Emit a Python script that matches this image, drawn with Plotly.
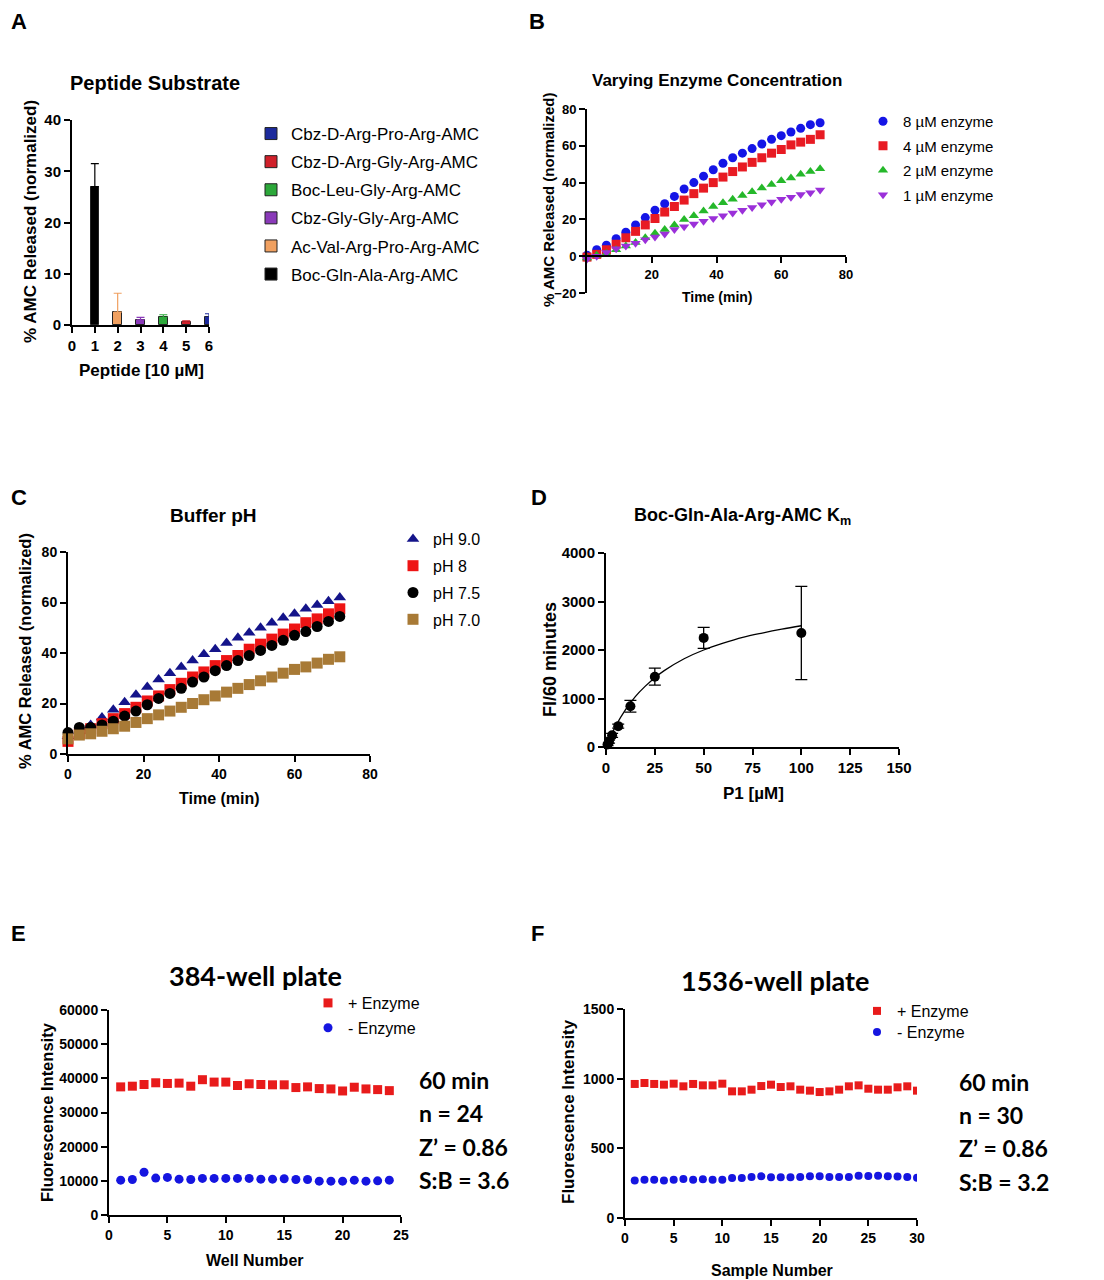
import plotly.graph_objects as go

W, H = 1104, 1280
OFF = 8  # page body margin that the browser adds around the figure

# ---- panel A data ----
peptide_names = ['Cbz-D-Arg-Pro-Arg-AMC', 'Cbz-D-Arg-Gly-Arg-AMC', 'Boc-Leu-Gly-Arg-AMC',
                 'Cbz-Gly-Gly-Arg-AMC', 'Ac-Val-Arg-Pro-Arg-AMC', 'Boc-Gln-Ala-Arg-AMC']
peptide_pos = [6, 5, 4, 3, 2, 1]
peptide_mean = [1.5, 0.5, 1.5, 1.0, 2.5, 27.0]
peptide_err = [0.7, 0.3, 0.5, 0.5, 3.7, 4.5]
peptide_colors = ['#1c2a9c', '#d0202a', '#2ca83a', '#8a3ab9', '#f0a060', '#000000']

# ---- panel B data ----
time_min = [0, 3, 6, 9, 12, 15, 18, 21, 24, 27, 30, 33, 36, 39, 42, 45, 48, 51, 54, 57, 60, 63, 66, 69, 72]
enz_8 = [0.5, 3.5, 6, 9.5, 13, 17, 21, 25, 28.5, 32.5, 36.5, 40, 43.5, 47, 50.5, 53.5, 56, 58.5,
         61, 63.5, 65.5, 67.5, 69.5, 71.5, 72.5]
enz_4 = [-0.5, 1, 3.5, 6.5, 10, 13.5, 17, 20.5, 24, 27, 30.5, 34, 37, 40, 43, 46, 48.5, 51,
         53.5, 56, 58, 60.5, 62, 63.5, 66]
enz_2 = [-1, 0.5, 1.5, 3.5, 5.5, 7.5, 10, 12.5, 14.5, 17, 20, 22, 24.5, 27, 29, 31, 33, 35,
         37, 39, 41, 42.5, 44.5, 46, 47.5]
enz_1 = [-1.5, 0, 2, 4, 5.5, 7, 9, 10.5, 12, 14.5, 16, 17.5, 19, 20.5, 22, 23.5, 25, 26.5,
         28, 29.5, 31, 32, 33.5, 34.5, 36]

# ---- panel C data ----
ph_90 = [7, 9, 11.5, 14.5, 17.5, 20.5, 23.5, 26.5, 29.5, 32, 34.5, 37, 39.5, 41.5, 44, 46, 48, 50,
         52, 54, 55.5, 57.5, 59, 60.5, 62]
ph_80 = [5, 8, 10, 12, 14, 16, 18.5, 21, 23, 25.5, 28, 30.5, 32.5, 35, 37, 39, 41.5, 43.5,
         45.5, 47.5, 49.5, 52, 53.5, 55.5, 57.5]
ph_75 = [8.5, 10.5, 10.5, 11.5, 13, 15, 17, 19.5, 22, 24, 26, 28.5, 30.5, 33, 35, 37, 39, 41,
         43, 45, 47, 48.5, 50.5, 52.5, 54.5]
ph_70 = [6, 7.5, 8, 9, 10, 11, 12.5, 14, 15.5, 17, 18.5, 20, 21.5, 23, 24.5, 26, 27.5, 29,
         30.5, 32, 33.5, 34.5, 36, 37.5, 38.5]

# ---- panel D data ----
p1_conc = [0.78, 1.56, 3.125, 6.25, 12.5, 25, 50, 100]
fi_mean = [50, 110, 240, 430, 840, 1450, 2250, 2350]
fi_err = [20, 30, 40, 40, 120, 175, 215, 960]
fit_x = [0, 2, 5, 10, 15, 20, 25, 30, 40, 50, 60, 70, 80, 90, 100]
fit_y = [0, 190, 435, 770, 1040, 1250, 1430, 1580, 1820, 2000, 2140, 2260, 2350, 2430, 2500]

# ---- panel E data ----
wells = list(range(1, 25))
plate384_pos = [37500, 37700, 38200, 38700, 38500, 38600, 37700, 39600, 38900, 38900, 37900, 38400,
                38200, 38100, 38100, 37300, 37500, 37000, 36900, 36300, 37400, 36900, 36700, 36400]
plate384_neg = [10200, 10400, 12500, 10800, 11000, 10500, 10400, 10700, 10700, 10700, 10700, 10700,
                10500, 10500, 10600, 10400, 10400, 9900, 9900, 9900, 10200, 9900, 10000, 10200]

# ---- panel F data ----
samples = list(range(1, 31))
plate1536_pos = [962, 969, 962, 957, 964, 945, 962, 952, 952, 964, 909, 909, 921, 947, 957,
                 940, 945, 921, 914, 904, 909, 921, 945, 952, 928, 921, 921, 938, 945, 914]
plate1536_neg = [270, 275, 275, 270, 275, 280, 275, 278, 275, 275, 287, 287, 294, 299, 292,
                 292, 292, 294, 299, 299, 294, 294, 294, 304, 301, 304, 299, 297, 294, 289]

FONT = 'Liberation Sans, Arial, sans-serif'
CAL = 'Lato, Open Sans, sans-serif'


def fx(x):
    return (x - OFF) / W


def fy(y):
    return 1 - (y - OFF) / H


def px_x(a, b):
    return [fx(a), fx(b)]


def px_y(top, bottom):
    return [fy(bottom), fy(top)]


def axis(domain, rng, anchor, tsize=13, dtick=None, tickvals=None, **kw):
    d = dict(
        domain=domain, range=rng, anchor=anchor, automargin=False,
        showline=True, linecolor='black', linewidth=2,
        ticks='outside', ticklen=6, tickwidth=2, tickcolor='black',
        showgrid=False, zeroline=False,
        tickfont=dict(family=FONT, size=tsize, color='black', weight='bold'),
    )
    if dtick is not None:
        d['dtick'] = dtick
        d['tick0'] = 0
    if tickvals is not None:
        d['tickmode'] = 'array'
        d['tickvals'] = tickvals
    d.update(kw)
    return d


fig = go.Figure()

# Panel A bars
for name, pos, m, e, c in zip(peptide_names, peptide_pos, peptide_mean, peptide_err, peptide_colors):
    fig.add_trace(go.Bar(
        x=[pos], y=[m], name=name, xaxis='x', yaxis='y', legend='legend',
        width=0.38, marker=dict(color=c, line=dict(color='#222222', width=1)),
        error_y=dict(type='data', array=[e], symmetric=False, arrayminus=[0],
                     color=c, thickness=1.2, width=4),
        legendgroup=name,
    ))

# Panel B scatter
for name, ys, sym, c in [('8 µM enzyme', enz_8, 'circle', '#1515e6'),
                         ('4 µM enzyme', enz_4, 'square', '#e81b23'),
                         ('2 µM enzyme', enz_2, 'triangle-up', '#25b82a'),
                         ('1 µM enzyme', enz_1, 'triangle-down', '#9b30d9')]:
    fig.add_trace(go.Scatter(
        x=time_min, y=ys, mode='markers', name=name, xaxis='x2', yaxis='y2', legend='legend2',
        marker=dict(symbol=sym, color=c, size=9), cliponaxis=False, legendgroup=name,
    ))

# Panel C scatter
for name, ys, sym, c in [('pH 9.0', ph_90, 'triangle-up', '#14148a'),
                         ('pH 8', ph_80, 'square', '#ee1414'),
                         ('pH 7.5', ph_75, 'circle', '#000000'),
                         ('pH 7.0', ph_70, 'square', '#a87a36')]:
    fig.add_trace(go.Scatter(
        x=time_min, y=ys, mode='markers', name=name, xaxis='x3', yaxis='y3', legend='legend3',
        marker=dict(symbol=sym, color=c, size=11), cliponaxis=False, legendgroup=name,
    ))

# Panel D
fig.add_trace(go.Scatter(
    x=fit_x, y=fit_y, mode='lines', line=dict(color='black', width=1.3, shape='spline'),
    xaxis='x4', yaxis='y4', showlegend=False,
))
fig.add_trace(go.Scatter(
    x=p1_conc, y=fi_mean, mode='markers', xaxis='x4', yaxis='y4', showlegend=False,
    marker=dict(color='black', size=10),
    error_y=dict(type='data', array=fi_err, color='black', thickness=1.3, width=6),
    cliponaxis=False,
))

# Panel E
fig.add_trace(go.Scatter(
    x=wells, y=plate384_pos, mode='markers', name='+ Enzyme', xaxis='x5', yaxis='y5', legend='legend4',
    marker=dict(symbol='square', color='#e81b1b', size=9), cliponaxis=False, legendgroup='p',
))
fig.add_trace(go.Scatter(
    x=wells, y=plate384_neg, mode='markers', name='- Enzyme', xaxis='x5', yaxis='y5', legend='legend4',
    marker=dict(symbol='circle', color='#1515e0', size=9), cliponaxis=False, legendgroup='n',
))

# Panel F (one legend box per entry to get the tight spacing)
fig.add_trace(go.Scatter(
    x=samples, y=plate1536_pos, mode='markers', name='+ Enzyme', xaxis='x6', yaxis='y6', legend='legend5',
    marker=dict(symbol='square', color='#e81b1b', size=8), cliponaxis=True,
))
fig.add_trace(go.Scatter(
    x=samples, y=plate1536_neg, mode='markers', name='- Enzyme', xaxis='x6', yaxis='y6', legend='legend6',
    marker=dict(symbol='circle', color='#1515e0', size=8), cliponaxis=True,
))

# B: x axis crosses at y = 0
b_dom = px_y(109, 293)
b_zero = b_dom[0] + (0 - (-20)) / 100 * (b_dom[1] - b_dom[0])


def leg(x, y, gap, size):
    return dict(x=fx(x), y=fy(y), xanchor='left', yanchor='top', bgcolor='rgba(0,0,0,0)',
                font=dict(family=FONT, size=size, color='black'), tracegroupgap=gap,
                traceorder='grouped', itemwidth=30)


fig.update_layout(
    width=W, height=H, margin=dict(l=0, r=0, t=0, b=0, autoexpand=False),
    paper_bgcolor='white', plot_bgcolor='white', showlegend=True,
    bargap=0,
    xaxis=axis(px_x(72, 209), [0, 6], 'y', 15, dtick=1),
    yaxis=axis(px_y(120, 325), [0, 40], 'x', 15, dtick=10),
    xaxis2=axis(px_x(587, 846), [0, 80], 'free', 13, tickvals=[20, 40, 60, 80], position=b_zero),
    yaxis2=axis(b_dom, [-20, 80], 'x2', 13, dtick=20),
    xaxis3=axis(px_x(68, 370), [0, 80], 'y3', 14, dtick=20),
    yaxis3=axis(px_y(552, 754), [0, 80], 'x3', 14, dtick=20),
    xaxis4=axis(px_x(606, 899), [0, 150], 'y4', 15, dtick=25),
    yaxis4=axis(px_y(553, 747), [0, 4000], 'x4', 15, dtick=1000),
    xaxis5=axis(px_x(109, 401), [0, 25], 'y5', 14, dtick=5),
    yaxis5=axis(px_y(1010, 1215), [0, 60000], 'x5', 14, dtick=10000, tickformat='d'),
    xaxis6=axis(px_x(625, 917), [0, 30], 'y6', 14, dtick=5),
    yaxis6=axis(px_y(1009, 1218), [0, 1500], 'x6', 14, dtick=500, tickformat='d'),
    legend=leg(251, 116, 3, 17),
    legend2=leg(863, 105, 2, 15),
    legend3=leg(393, 522, 3, 16),
    legend4=leg(308, 986, 1, 16),
    legend5=leg(857, 994, 0, 16),
    legend6=leg(857, 1015, 0, 16),
)


def note(text, x, y, size, family=FONT, angle=0, xanchor='center', yanchor='middle'):
    return dict(text=text, x=fx(x), y=fy(y), xref='paper', yref='paper', showarrow=False,
                xanchor=xanchor, yanchor=yanchor, textangle=angle, borderpad=0,
                font=dict(family=family, size=size, color='black', weight='bold'))


annotations = []
# panel letters (A and B sit right at the top edge)
annotations.append(note('A', 10, OFF, 22, xanchor='left', yanchor='top'))
annotations.append(note('B', 528, OFF, 22, xanchor='left', yanchor='top'))
for lab, x, y in [('C', 10, 497), ('D', 530, 497), ('E', 10, 933), ('F', 530, 933)]:
    annotations.append(note(lab, x, y, 22, xanchor='left'))

# panel titles
for txt, x, y, s in [('Peptide Substrate', 155, 83, 20), ('Varying Enzyme Concentration', 717, 80, 17),
                     ('Buffer pH', 213, 515, 19), ('Boc-Gln-Ala-Arg-AMC K<sub>m</sub>', 742, 516, 18)]:
    annotations.append(note(txt, x, y, s))

# axis titles
for txt, x, y, s, ang in [
    ('% AMC Released (normalized)', 30, 222, 17, -90), ('Peptide [10 µM]', 141, 370, 17, 0),
    ('% AMC Released (normalized)', 548, 200, 15, -90), ('Time (min)', 717, 297, 14, 0),
    ('% AMC Released (normalized)', 25, 651, 16.5, -90), ('Time (min)', 219, 798, 16, 0),
    ('FI/60 minutes', 550, 660, 18, -90), ('P1 [µM]', 753, 793, 17, 0),
    ('Fluorescence Intensity', 47, 1112, 16.5, -90), ('Well Number', 255, 1260, 16, 0),
    ('Fluorescence Intensity', 568, 1112, 17, -90), ('Sample Number', 772, 1270, 16, 0),
]:
    annotations.append(note(txt, x, y, s, angle=ang))

for txt, x, y in [('384-well plate', 255, 975), ('1536-well plate', 775, 980)]:
    annotations.append(note(txt, x, y, 27, family=CAL))

stats_e = ['60 min', 'n = 24', 'Z’ = 0.86', 'S:B = 3.6']
stats_f = ['60 min', 'n = 30', 'Z’ = 0.86', 'S:B = 3.2']
for lines, x0, ys in [(stats_e, 418, [1080, 1113, 1147, 1180]), (stats_f, 958, [1082, 1115, 1148, 1182])]:
    for t, y in zip(lines, ys):
        annotations.append(note(t, x0, y, 23, family=CAL, xanchor='left'))

fig.update_layout(annotations=annotations)

fig.write_html('out.html')
